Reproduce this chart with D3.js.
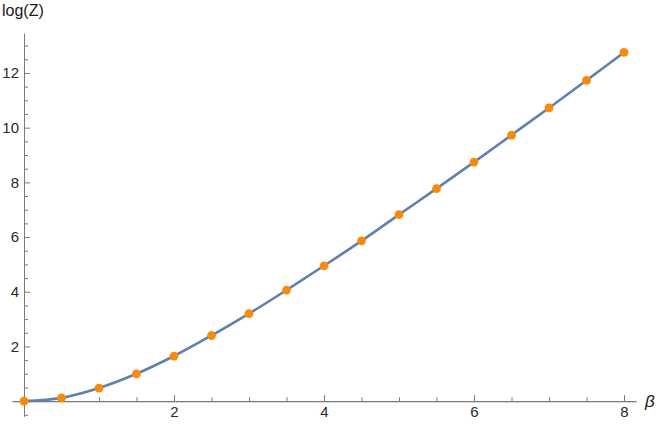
<!DOCTYPE html>
<meta charset="utf-8">
<head>
  <title>log(Z) vs beta</title>
</head>

<style>
body {
  margin: 0;
  background: #fff;
  font-family: "Liberation Sans", Arial, sans-serif;
}
.axis path, .axis line { stroke: #7a7a7a; }
</style>

<body>
  <div id="content">
    <svg width="664" height="427"></svg>
  </div>

  <script src="https://cdnjs.cloudflare.com/ajax/libs/d3/7.8.5/d3.min.js"></script>

  <script>
// data
var beta = [0, 0.5, 1, 1.5, 2, 2.5, 3, 3.5, 4, 4.5, 5, 5.5, 6, 6.5, 7, 7.5, 8];
var logZ = [0, 0.12, 0.48, 1.0, 1.65, 2.4, 3.2, 4.06, 4.95, 5.86, 6.82, 7.77, 8.74, 9.73, 10.72, 11.73, 12.75];

var xTicks = [2, 4, 6, 8];
var yTicks = [2, 4, 6, 8, 10, 12];
var xMinor = [0.5, 1, 1.5, 2.5, 3, 3.5, 4.5, 5, 5.5, 6.5, 7, 7.5];
var yMinor = [-0.5, 0.5, 1, 1.5, 2.5, 3, 3.5, 4.5, 5, 5.5, 6.5, 7, 7.5, 8.5, 9, 9.5, 10.5, 11, 11.5, 12.5, 13];

var svg = d3.select('svg');

var x = d3.scaleLinear().domain([-0.16, 8.16]).range([12, 636]);
var y = d3.scaleLinear().domain([-0.55, 13.45]).range([416.2, 33.3]);

var points = beta.map(function(b, i) { return [b, logZ[i]]; });

function styleAxis(g) {
  g.attr('font-size', 15)
    .attr('font-family', '"Liberation Sans", Arial, sans-serif');
  g.selectAll('text').attr('fill', '#2a2a2a');
}

// x axis
svg.append('g')
  .attr('class', 'axis')
  .attr('transform', 'translate(0,' + y(0) + ')')
  .call(d3.axisBottom(x).tickValues(xMinor).tickSize(-4).tickSizeOuter(0).tickFormat(''));

svg.append('g')
  .attr('class', 'axis')
  .attr('transform', 'translate(0,' + y(0) + ')')
  .call(d3.axisBottom(x).tickValues(xTicks).tickSize(-6).tickSizeOuter(0).tickPadding(5).tickFormat(d3.format('d')))
  .call(styleAxis);

// y axis
svg.append('g')
  .attr('class', 'axis')
  .attr('transform', 'translate(' + x(0) + ',0)')
  .call(d3.axisLeft(y).tickValues(yMinor).tickSize(-4).tickSizeOuter(0).tickFormat(''));

svg.append('g')
  .attr('class', 'axis')
  .attr('transform', 'translate(' + x(0) + ',0)')
  .call(d3.axisLeft(y).tickValues(yTicks).tickSize(-6).tickSizeOuter(0).tickPadding(5).tickFormat(d3.format('d')))
  .call(styleAxis);

// curve
var line = d3.line()
  .x(function(d) { return x(d[0]); })
  .y(function(d) { return y(d[1]); })
  .curve(d3.curveCatmullRom);

svg.append('path')
  .datum(points)
  .attr('d', line)
  .attr('fill', 'none')
  .attr('stroke', '#5e81b5')
  .attr('stroke-width', 2.6);

// dots
svg.selectAll('circle')
  .data(points)
  .enter().append('circle')
  .attr('cx', function(d) { return x(d[0]); })
  .attr('cy', function(d) { return y(d[1]); })
  .attr('r', 4.4)
  .attr('fill', '#ff8a00');

// axis labels
svg.append('text')
  .attr('x', 2)
  .attr('y', 16)
  .attr('font-size', 16)
  .attr('fill', '#1a1a1a')
  .text('log(Z)');

svg.append('text')
  .attr('x', 645)
  .attr('y', 407)
  .attr('font-size', 17)
  .attr('font-style', 'italic')
  .attr('fill', '#1a1a1a')
  .text('β');
  </script>
</body>
</html>
